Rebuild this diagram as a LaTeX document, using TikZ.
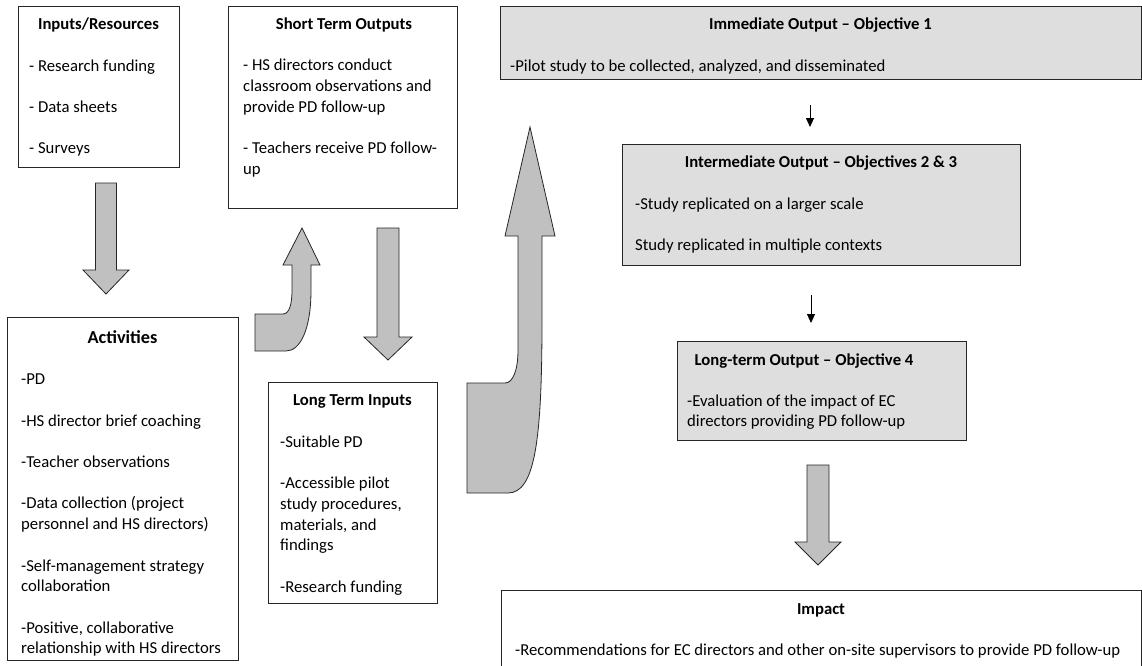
\documentclass[tikz,border=0pt]{standalone}
\usepackage{fontspec}
\setmainfont{Carlito}
\usetikzlibrary{arrows.meta,calc}
\definecolor{boxgray}{RGB}{222,222,222}
\definecolor{arrowgray}{RGB}{192,192,192}
\begin{document}
\begin{tikzpicture}[x=1pt,y=-1pt,
  box/.style={draw=black!85, line width=0.9pt, anchor=north west, inner sep=0, outer sep=0},
  graybox/.style={box, fill=boxgray},
  ttl/.style={font=\fontsize{16.7}{20.7}\selectfont\bfseries, anchor=base, inner sep=0},
  txt/.style={font=\fontsize{16.7}{20.7}\selectfont, align=left, anchor=north west, inner sep=0},
  blockarrow/.style={draw=black!85, line width=0.8pt, fill=arrowgray, line join=miter},
  thinarr/.style={draw=black, line width=0.9pt, -{Triangle[width=8pt,length=9pt]}}
]
\useasboundingbox (0,0) rectangle (1142,665);

% ---------- boxes ----------
\node[box, minimum width=161, minimum height=161] (inp) at (18,6) {};
\node[box, minimum width=229, minimum height=202] (sto) at (228,6) {};
\node[box, minimum width=231, minimum height=343] (act) at (7,317) {};
\node[box, minimum width=169, minimum height=221] (lti) at (268,382) {};
\node[graybox, minimum width=641, minimum height=73] (imm) at (500,6) {};
\node[graybox, minimum width=398, minimum height=121] (inter) at (622,144) {};
\node[graybox, minimum width=289, minimum height=99] (lto) at (677,341) {};
\node[box, minimum width=640, minimum height=90] (imp) at (501,590) {};

% ---------- texts ----------
\node[ttl] (inpT) at (98.5,29.5) {Inputs/Resources};
\node[txt] (inpB) at (29,56.5) {\strut - Research funding\\[20.7pt]- Data sheets\\[20.7pt]- Surveys};

\node[ttl] (stoT) at (344,29.5) {Short Term Outputs};
\node[txt] (stoB) at (243,56) {\strut - HS directors conduct\\classroom observations and\\provide PD follow-up\\[20.7pt]- Teachers receive PD follow-\\up};

\node[ttl, font=\fontsize{18.3}{22}\selectfont\bfseries] (actT) at (122.5,343) {Activities};
\node[txt] (actB) at (21,370) {\strut -PD\\[20.7pt]-HS director brief coaching\\[20.7pt]-Teacher observations\\[20.7pt]-Data collection (project\\personnel and HS directors)\\[20.7pt]-Self-management strategy\\collaboration\\[20.7pt]-Positive, collaborative\\relationship with HS directors};

\node[ttl] (ltiT) at (352.5,405.5) {Long Term Inputs};
\node[txt] (ltiB) at (280,432.5) {\strut -Suitable PD\\[20.7pt]-Accessible pilot\\study procedures,\\materials, and\\findings\\[20.7pt]-Research funding};

\node[ttl] (immT) at (820.5,29.5) {Immediate Output -- Objective 1};
\node[txt] (immB) at (510,56.5) {\strut -Pilot study to be collected, analyzed, and disseminated};

\node[ttl] (interT) at (821,167.5) {Intermediate Output -- Objectives 2 \& 3};
\node[txt] (interB) at (635,194.5) {\strut -Study replicated on a larger scale\\[20.7pt]Study replicated in multiple contexts};

\node[ttl] (ltoT) at (804,365.5) {Long-term Output -- Objective 4};
\node[txt] (ltoB) at (687,391.5) {\strut -Evaluation of the impact of EC\\directors providing PD follow-up};

\node[ttl] (impT) at (821,614) {Impact};
\node[txt] (impB) at (515,641) {\strut -Recommendations for EC directors and other on-site supervisors to provide PD follow-up};

% ---------- thin arrows ----------
\draw[thinarr] ([xshift=-10.5pt,yshift=-26pt]imm.south) -- ([xshift=-11pt,yshift=17pt]inter.north);
\draw[thinarr] ([xshift=-10pt,yshift=-30pt]inter.south) -- ([xshift=-10.5pt,yshift=18pt]lto.north);

% ---------- block arrows ----------
\draw[blockarrow] (95.5,183) -- (116.5,183) -- (116.5,270) -- (129,270) -- (106,294) -- (83,270) -- (95.5,270) -- cycle;
\draw[blockarrow] (377,228) -- (399,228) -- (399,337) -- (412,337) -- (388,360) -- (364,337) -- (377,337) -- cycle;
\draw[blockarrow] (807,465) -- (829,465) -- (829,542) -- (841,542) -- (818,565) -- (795,542) -- (807,542) -- cycle;

\draw[blockarrow] (255,314) -- (283,314) .. controls (290,314) and (292,302) .. (292,290) -- (292,265) -- (283,265) -- (302,228) -- (320,265) -- (311,265) -- (311,290) .. controls (311,330) and (300,351) .. (286,351) -- (255,351) -- cycle;

\draw[blockarrow] (467,383) -- (505,383) .. controls (513,383) and (518,370) .. (518,350) -- (518,236) -- (505,236) -- (530,127) -- (555,236) -- (542,236) -- (542,320) .. controls (542,440) and (535,493) .. (508,493) -- (467,493) -- cycle;
\end{tikzpicture}
\end{document}
